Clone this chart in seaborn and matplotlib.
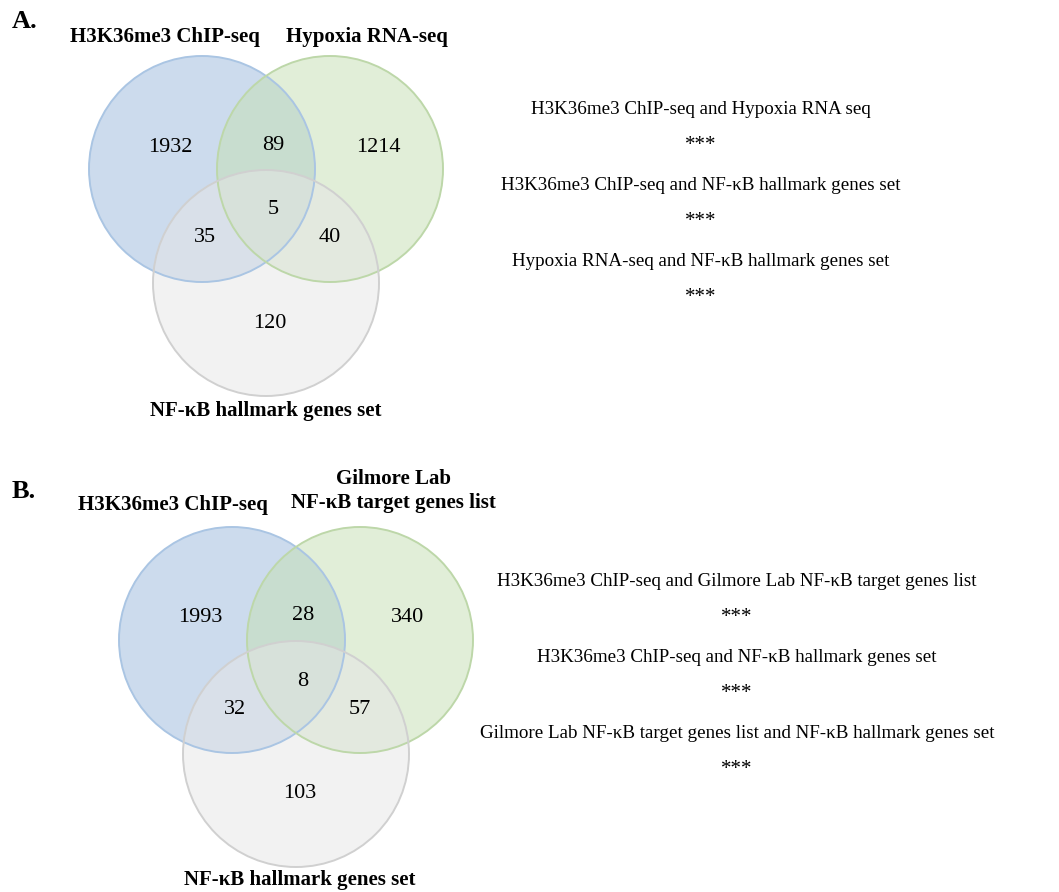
import matplotlib
matplotlib.use("Agg")
import matplotlib.pyplot as plt
from matplotlib.patches import Circle
import seaborn as sns

# region counts: only A, only B, A&B, A&C, B&C, A&B&C, only C
counts_a = [1932, 1214, 89, 35, 40, 5, 120]
counts_b = [1993, 340, 28, 32, 57, 8, 103]

sets_a = ["H3K36me3 ChIP-seq", "Hypoxia RNA-seq", "NF-\u03baB hallmark genes set"]
sets_b = ["H3K36me3 ChIP-seq", "Gilmore Lab\nNF-\u03baB target genes list", "NF-\u03baB hallmark genes set"]

pairs_a = ["H3K36me3 ChIP-seq and Hypoxia RNA seq",
           "H3K36me3 ChIP-seq and NF-\u03baB hallmark genes set",
           "Hypoxia RNA-seq and NF-\u03baB hallmark genes set"]
pairs_b = ["H3K36me3 ChIP-seq and Gilmore Lab NF-\u03baB target genes list",
           "H3K36me3 ChIP-seq and NF-\u03baB hallmark genes set",
           "Gilmore Lab NF-\u03baB target genes list and NF-\u03baB hallmark genes set"]
signif_a = ["***", "***", "***"]
signif_b = ["***", "***", "***"]

sns.set_style("white")
plt.rcParams['font.family'] = ['Liberation Serif', 'DejaVu Serif']
plt.rcParams['text.color'] = 'black'

fig = plt.figure(figsize=(10.59, 8.92), dpi=100)
ax = fig.add_axes([0, 0, 1, 1])
ax.set_xlim(0, 1059)
ax.set_ylim(892, 0)
ax.axis("off")

fills = ["#9bb9dd", "#c5dfb3", "#e6e6e6"]
edges = ["#aac5e3", "#bdd7a9", "#d0d0d0"]
R = 113


def venn(cx, cy, counts, letter):
    centers = [(cx - 64, cy), (cx + 64, cy), (cx, cy + 114)]
    for (x, y), fc in zip(centers, fills):
        ax.add_patch(Circle((x, y), R, facecolor=fc, alpha=0.5, edgecolor="none"))
    for (x, y), ec in zip(centers, edges):
        ax.add_patch(Circle((x, y), R, facecolor="none", edgecolor=ec, lw=1.4))
    # label positions for the regions
    offs = [(-96, -22), (112, -22), (7, -24), (-61, 69), (64, 69), (7, 41), (4, 154)]
    for (dx, dy), v in zip(offs, counts):
        ax.text(cx + dx, cy + dy, str(v), ha="center", va="center", fontsize=16)
    ax.text(12, cy - 148, letter, fontsize=19, fontweight="bold", ha="left", va="center")


venn(266, 169, counts_a, "A.")
ax.text(165, 37, sets_a[0], fontsize=15, fontweight="bold", ha="center", va="center")
ax.text(367, 37, sets_a[1], fontsize=15, fontweight="bold", ha="center", va="center")
ax.text(266, 411, sets_a[2], fontsize=15, fontweight="bold", ha="center", va="center")

venn(296, 640, counts_b, "B.")
ax.text(173, 505, sets_b[0], fontsize=15, fontweight="bold", ha="center", va="center")
ax.text(393, 491, sets_b[1], fontsize=15, fontweight="bold", ha="center", va="center",
        linespacing=1.3)
ax.text(300, 880, sets_b[2], fontsize=15, fontweight="bold", ha="center", va="center")

for i, (p, s) in enumerate(zip(pairs_a, signif_a)):
    ax.text(701, 110 + i * 76, p, fontsize=13.7, ha="center", va="center")
    ax.text(701, 145 + i * 76, s, fontsize=15, ha="center", va="center")

for i, (p, s) in enumerate(zip(pairs_b, signif_b)):
    ax.text(737, 581 + i * 76, p, fontsize=13.7, ha="center", va="center")
    ax.text(737, 617 + i * 76, s, fontsize=15, ha="center", va="center")

fig.savefig("out.png", dpi=100, facecolor="white")
